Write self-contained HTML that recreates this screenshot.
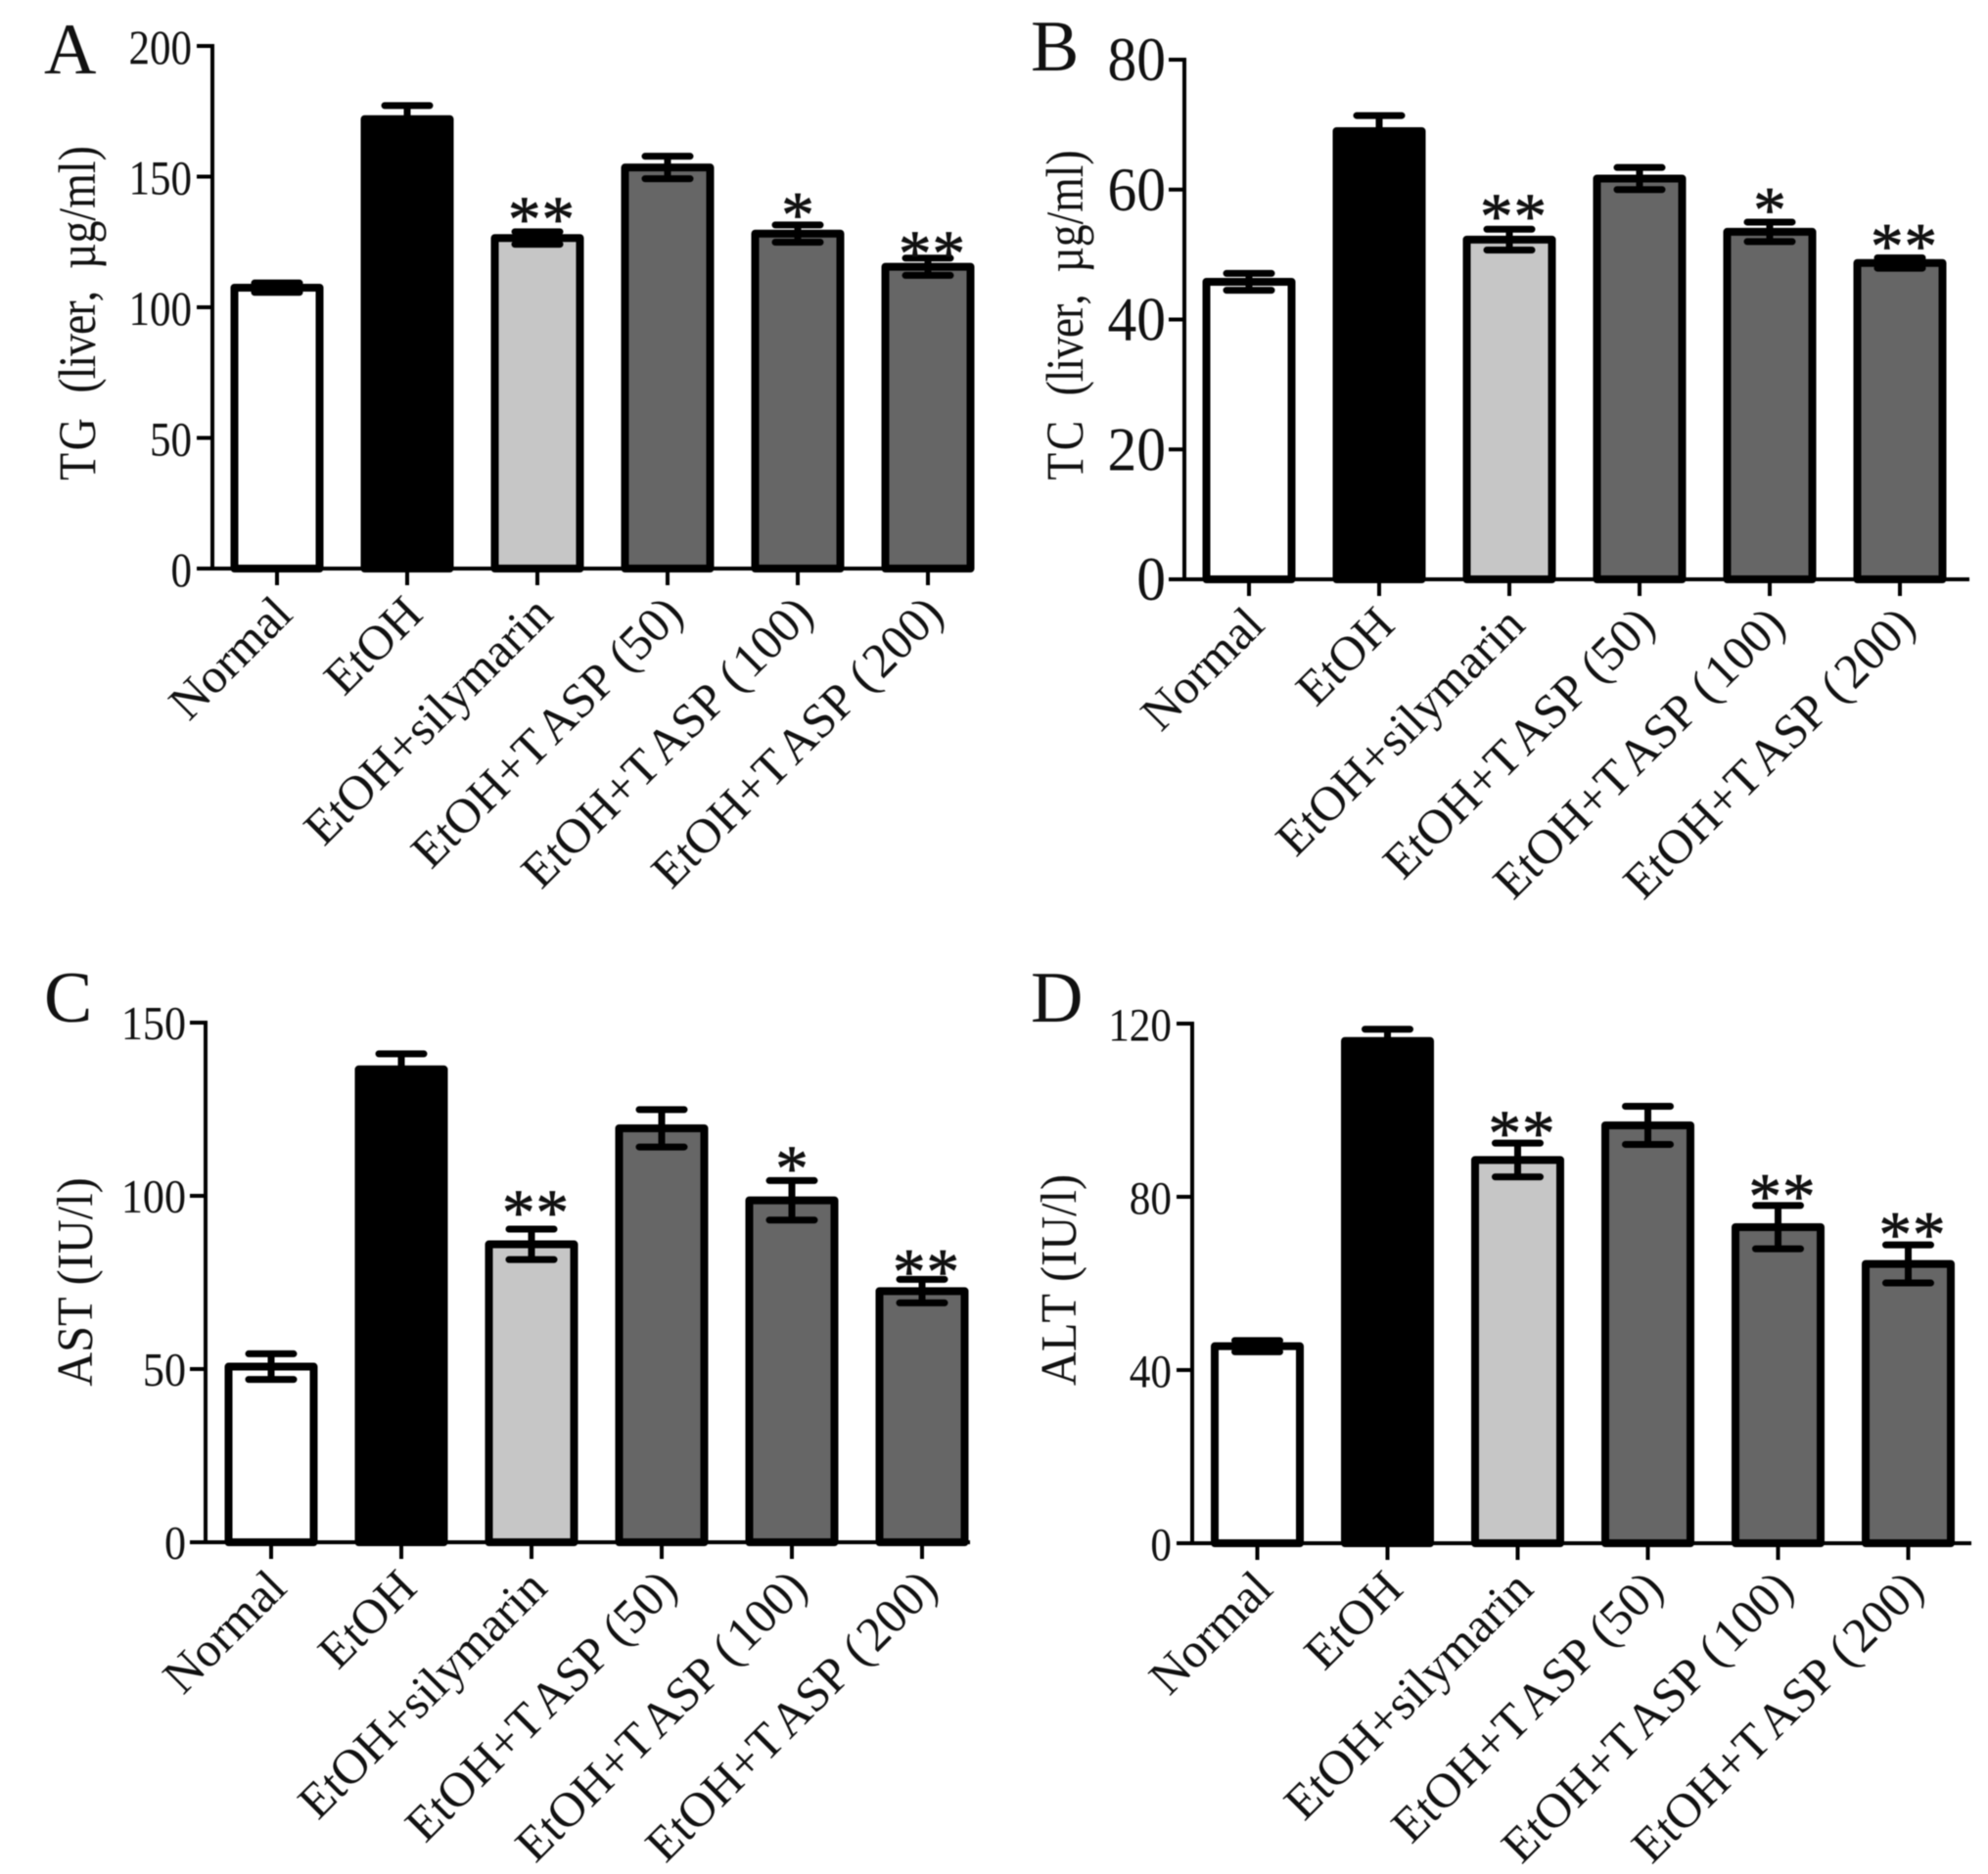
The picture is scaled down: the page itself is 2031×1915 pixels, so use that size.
<!DOCTYPE html>
<html>
<head>
<meta charset="utf-8">
<title>TG, TC, AST and ALT bar charts</title>
<style>
html,body{margin:0;padding:0;background:#fff;}
svg{display:block;filter:blur(0.6px);}
text{font-family:"Liberation Serif","DejaVu Serif",serif;fill:#111;font-kerning:none;}
</style>
</head>
<body>
<svg id="figure" xmlns="http://www.w3.org/2000/svg" width="2031" height="1915" viewBox="0 0 2031 1915">
<rect width="2031" height="1915" fill="#fff"/>
</svg>
<script>
const categories = ['Normal','EtOH','EtOH+silymarin','EtOH+TASP (50)','EtOH+TASP (100)','EtOH+TASP (200)'];
const barFills = ['#ffffff','#000000','#c6c6c6','#666666','#666666','#666666'];

const tgTicks = [0,50,100,150,200];
const tgValues = [107.5,172,126.5,153.5,128.2,115.5];
const tgErrors = [1.8,5.2,2.4,4.3,3.3,3.3];
const tgStars = ['','','**','','*','**'];
const tgStarLift = [0,0,10,0,10,8];

const tcTicks = [0,20,40,60,80];
const tcValues = [45.8,69,52.3,61.7,53.5,48.7];
const tcErrors = [1.3,2.4,1.6,1.7,1.5,0.8];
const tcStars = ['','','**','','*','**'];
const tcStarLift = [0,0,4.7,0,4.5,3.7];

const astTicks = [0,50,100,150];
const astValues = [50.7,136.5,86,119.5,98.7,72.5];
const astErrors = [3.7,4.5,4.4,5.4,5.7,3.4];
const astStars = ['','','**','','*','**'];
const astStarLift = [0,0,11.3,0,11.3,7.7];

const altTicks = [0,40,80,120];
const altValues = [45.5,116,88.5,96.5,73,64.5];
const altErrors = [1.3,2.7,3.9,4.4,5,4.4];
const altStars = ['','','**','','**','**'];
const altStarLift = [0,0,7.9,0,8.8,8.5];

const NS = 'http://www.w3.org/2000/svg';
const figure = document.getElementById('figure');

function make(parent, tag, attrs, content) {
  const el = document.createElementNS(NS, tag);
  for (const k in attrs) el.setAttribute(k, attrs[k]);
  if (content !== undefined) el.textContent = content;
  parent.appendChild(el);
  return el;
}

function fillCategoryLabel(label, c) {
  const m = c.match(/^(.*T)(ASP \()(.*)$/);
  if (!m) {
    label.textContent = c;
    return;
  }
  make(label, 'tspan', {}, m[1]);
  make(label, 'tspan', {dx: 4}, m[2]);
  make(label, 'tspan', {dx: m[3].length > 3 ? 4 : 0}, m[3]);
}

function fillTitle(title, text) {
  const m = text.match(/^(T[GC])(\u00a0\u00a0)(\(liver,)(.*)$/);
  if (!m) {
    title.textContent = text;
    return;
  }
  make(title, 'tspan', {'letter-spacing': 3}, m[1]);
  make(title, 'tspan', {}, m[2]);
  make(title, 'tspan', {'letter-spacing': -1.2}, m[3]);
  make(title, 'tspan', {}, m[4]);
}

function drawPanel(cfg) {
  const yScale = v => cfg.y0 - (v / cfg.yMax) * (cfg.y0 - cfg.yTop);
  const xScale = i => cfg.x0 + i * cfg.step;

  const g = make(figure, 'g', {});
  
  

  const letter = make(g, 'text', {x: cfg.letterX, y: cfg.letterY, 'font-size': 74}, cfg.letter);
  
  

  // bars
  cfg.values.forEach((v, i) => {
    const top = yScale(v);
    const bar = make(g, 'rect', {
      x: xScale(i) - 43.5, y: top, width: 87, height: cfg.y0 - top,
      fill: barFills[i], stroke: '#000', 'stroke-width': 8, 'stroke-linejoin': 'round'
    });
    
    
  });

  // error bars
  cfg.values.forEach((v, i) => {
    const cx = xScale(i);
    const hi = yScale(v + cfg.errors[i]);
    const lo = yScale(v - cfg.errors[i]);
    const err = make(g, 'path', {
      d: 'M' + cx + ' ' + hi + 'V' + lo +
         'M' + (cx - 23) + ' ' + hi + 'H' + (cx + 23) +
         'M' + (cx - 23) + ' ' + lo + 'H' + (cx + 23),
      fill: 'none', stroke: '#000', 'stroke-width': 7, 'stroke-linecap': 'round'
    });
    
    
  });

  // significance marks
  cfg.stars.forEach((s, i) => {
    if (!s) return;
    const yc = yScale(cfg.values[i] + cfg.lift[i]);
    const star = make(g, 'text', {
      x: xScale(i) + (s.length > 1 ? 4.5 : 0), y: yc + 30, 'font-size': 67,
      'text-anchor': 'middle', 'letter-spacing': s.length > 1 ? 1 : 0,
      stroke: '#111', 'stroke-width': 0.8
    }, s);
    
    
  });

  // axes
  const yAxis = make(g, 'line', {x1: cfg.axisX, x2: cfg.axisX, y1: cfg.yTop - 2, y2: cfg.y0 + 2, stroke: '#000', 'stroke-width': 4});
  
  

  const xAxis = make(g, 'line', {x1: cfg.axisX - 16, x2: cfg.axisEnd, y1: cfg.y0, y2: cfg.y0, stroke: '#000', 'stroke-width': 4});
  
  

  cfg.ticks.forEach(t => {
    const y = yScale(t);
    const tick = make(g, 'line', {x1: cfg.axisX - 16, x2: cfg.axisX, y1: y, y2: y, stroke: '#000', 'stroke-width': 4});
    
    
    const lx = cfg.axisX - cfg.tickGap;
    const ly = y + cfg.tickFont * cfg.tickDy;
    const label = make(g, 'text', {
      transform: 'translate(' + lx + ' ' + ly + ') scale(' + cfg.tickSx + ' 1)',
      'font-size': cfg.tickFont, 'text-anchor': 'end'
    }, String(t));
    
    
  });

  categories.forEach((c, i) => {
    const cx = xScale(i);
    const tick = make(g, 'line', {x1: cx, x2: cx, y1: cfg.y0, y2: cfg.y0 + 17, stroke: '#000', 'stroke-width': 4});
    
    
    const lx = cx + 18;
    const ly = cfg.y0 + 49;
    const label = make(g, 'text', {
      transform: 'translate(' + lx + ' ' + ly + ') rotate(-45)',
      'font-size': 50, 'text-anchor': 'end'
    });
    fillCategoryLabel(label, c);
    
    
  });

  const title = make(g, 'text', {
    transform: 'translate(' + cfg.titleX + ' ' + cfg.titleY + ') rotate(-90) scale(' + cfg.titleSx + ' 1)',
    'font-size': cfg.titleFont, 'text-anchor': 'middle'
  });
  fillTitle(title, cfg.title);
  
  
}

drawPanel({letter:'A', letterX:45, letterY:75, axisX:217, axisEnd:995, y0:581, yTop:47, yMax:200, x0:283, step:133,
  ticks:tgTicks, values:tgValues, errors:tgErrors, stars:tgStars, lift:tgStarLift,
  tickFont:50, tickSx:0.86, tickGap:21, tickDy:0.36,
  title:'TG\u00a0\u00a0(liver,\u00a0\u00a0\u00b5g/ml)', titleX:97, titleY:320, titleFont:54, titleSx:0.85});

drawPanel({letter:'B', letterX:1053, letterY:72, axisX:1210, axisEnd:2012, y0:592, yTop:61, yMax:80, x0:1276, step:133,
  ticks:tcTicks, values:tcValues, errors:tcErrors, stars:tcStars, lift:tcStarLift,
  tickFont:64, tickSx:0.93, tickGap:19, tickDy:0.33,
  title:'TC\u00a0\u00a0(liver,\u00a0\u00a0\u00b5g/ml)', titleX:1106, titleY:322, titleFont:54, titleSx:0.845});

drawPanel({letter:'C', letterX:45, letterY:1044, axisX:210, axisEnd:991, y0:1576, yTop:1045, yMax:150, x0:277, step:133,
  ticks:astTicks, values:astValues, errors:astErrors, stars:astStars, lift:astStarLift,
  tickFont:49, tickSx:0.9, tickGap:20, tickDy:0.35,
  title:'AST (IU/l)', titleX:94, titleY:1310, titleFont:52, titleSx:0.93});

drawPanel({letter:'D', letterX:1053, letterY:1044, axisX:1218, axisEnd:2014, y0:1577, yTop:1046, yMax:120, x0:1284.5, step:133,
  ticks:altTicks, values:altValues, errors:altErrors, stars:altStars, lift:altStarLift,
  tickFont:48, tickSx:0.9, tickGap:21, tickDy:0.36,
  title:'ALT (IU/l)', titleX:1099, titleY:1308, titleFont:52, titleSx:0.93});
</script>
</body>
</html>
